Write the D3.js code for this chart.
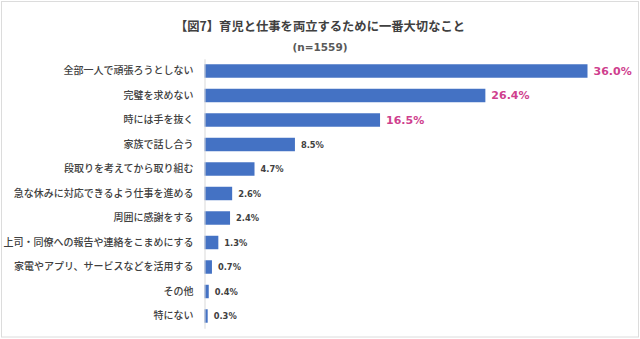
<!DOCTYPE html>
<html lang="ja">
<head>
<meta charset="utf-8">
<script src="https://cdn.jsdelivr.net/npm/d3@7"></script>
<style>
  html, body { margin: 0; padding: 0; background: #fff; }
  svg { display: block; }
</style>
</head>
<body>
<svg id="chart" width="640" height="339"></svg>
<script>
// Survey answers (n=1559): most important thing for balancing childcare and work
const categories = [
  "全部一人で頑張ろうとしない",
  "完璧を求めない",
  "時には手を抜く",
  "家族で話し合う",
  "段取りを考えてから取り組む",
  "急な休みに対応できるよう仕事を進める",
  "周囲に感謝をする",
  "上司・同僚への報告や連絡をこまめにする",
  "家電やアプリ、サービスなどを活用する",
  "その他",
  "特にない"
];
const values = [36.0, 26.4, 16.5, 8.5, 4.7, 2.6, 2.4, 1.3, 0.7, 0.4, 0.3];
const highlightCount = 3;   // top answers get a larger, coloured label
const titleText = "【図7】育児と仕事を両立するために一番大切なこと";
const subtitleText = "(n=1559)";

const W = 640, H = 339;
const svg = d3.select("#chart");

// light frame around the figure
svg.append("rect")
  .attr("x", 1.5).attr("y", 1.5)
  .attr("width", W - 3).attr("height", H - 3.5)
  .attr("fill", "#fff").attr("stroke", "#dcdcdc").attr("stroke-width", 1);

const jp = "'Noto Sans CJK JP', 'Noto Sans', sans-serif";
const num = "'DejaVu Sans', Verdana, sans-serif";

svg.append("text")
  .attr("x", 320).attr("y", 26)
  .attr("text-anchor", "middle").attr("dominant-baseline", "central")
  .attr("font-family", jp).attr("font-size", 12.3).attr("font-weight", 700)
  .attr("fill", "#404040")
  .text(titleText);

svg.append("text")
  .attr("x", 320).attr("y", 47)
  .attr("text-anchor", "middle").attr("dominant-baseline", "central")
  .attr("font-family", num).attr("font-size", 10.5).attr("font-weight", 700)
  .attr("fill", "#595959")
  .text(subtitleText);

const x0 = 204.5;
const x = d3.scaleLinear().domain([0, 36]).range([x0, 587.5]);
const y = d3.scaleBand()
  .domain(categories)
  .range([58.75, 328.25])
  .paddingInner(0.45)
  .paddingOuter(0.225);

// bars
svg.append("g").selectAll("rect")
  .data(values)
  .join("rect")
  .attr("x", x(0))
  .attr("y", (d, i) => y(categories[i]))
  .attr("width", d => x(d) - x(0))
  .attr("height", y.bandwidth())
  .attr("fill", "#4472c4");

// category axis
const axis = svg.append("g")
  .attr("transform", `translate(${x0},0)`)
  .call(d3.axisLeft(y).tickSize(0).tickPadding(11));
axis.select(".domain").attr("stroke", "#d9d9d9");
axis.selectAll("text")
  .attr("font-family", jp).attr("font-size", 10).attr("font-weight", 500)
  .attr("fill", "#404040");

// value labels
svg.append("g").selectAll("text")
  .data(values)
  .join("text")
  .attr("x", d => x(d) + 6)
  .attr("y", (d, i) => y(categories[i]) + y.bandwidth() / 2)
  .attr("dominant-baseline", "central")
  .attr("font-family", num).attr("font-weight", 700)
  .attr("font-size", (d, i) => i < highlightCount ? 11 : 8.3)
  .attr("fill", (d, i) => i < highlightCount ? "#cf3f8e" : "#404040")
  .text(d => d.toFixed(1) + "%");
</script>
</body>
</html>
